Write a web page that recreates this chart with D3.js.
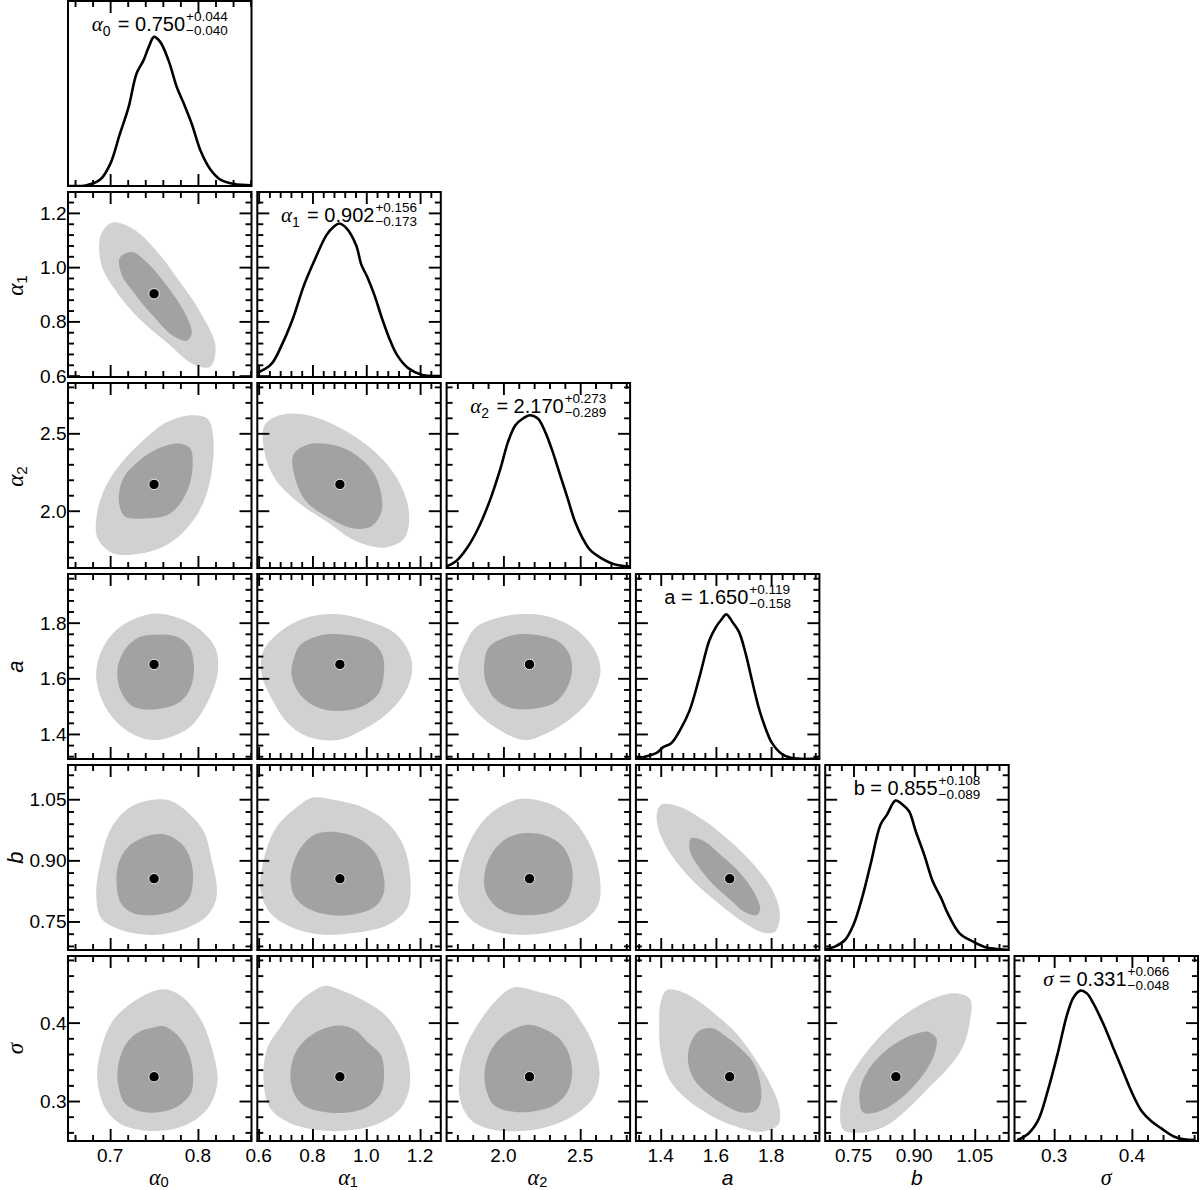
<!DOCTYPE html>
<html>
<head>
<meta charset="utf-8">
<script src="https://cdn.jsdelivr.net/npm/d3@7"></script>
<style>
body { margin: 0; background: #fff; }
text { font-family: "Liberation Sans", Arial, sans-serif; fill: #000; }
</style>
</head>
<body>
<svg id="corner" width="1200" height="1190"></svg>
<script>
// Paramètres
const paramSym   = ["α", "α", "α", "a", "b", "σ"];
const paramSub   = ["0", "1", "2", "", "", ""];
const paramGreek = [true, true, true, false, false, true];
const domains = [[0.652, 0.861], [0.595, 1.277], [1.63, 2.825], [1.31, 1.975], [0.68, 1.134], [0.249, 0.485]];
const majorTicks = [[0.7, 0.8], [0.6, 0.8, 1.0, 1.2], [2.0, 2.5], [1.4, 1.6, 1.8], [0.75, 0.90, 1.05], [0.3, 0.4]];
const tickLabels = [["0.7", "0.8"], ["0.6", "0.8", "1.0", "1.2"], ["2.0", "2.5"], ["1.4", "1.6", "1.8"], ["0.75", "0.90", "1.05"], ["0.3", "0.4"]];
const minorStep = [0.02, 0.04, 0.1, 0.04, 0.03, 0.02];
const bestFit = [0.750, 0.902, 2.170, 1.650, 0.855, 0.331];
const errPlus = [0.044, 0.156, 0.273, 0.119, 0.108, 0.066];
const errMinus = [0.040, 0.173, 0.289, 0.158, 0.089, 0.048];

// Distributions marginales (valeur, densité relative)
const margA0 = [[0.652,0.0],[0.673,0.004],[0.689,0.036],[0.700,0.118],[0.711,0.28],[0.721,0.426],[0.730,0.607],[0.738,0.679],[0.744,0.752],[0.750,0.806],[0.757,0.779],[0.7665,0.679],[0.776,0.534],[0.784,0.444],[0.793,0.335],[0.803,0.19],[0.814,0.09],[0.825,0.036],[0.841,0.011],[0.861,0.004]];
const margA1 = [[0.595,0.023],[0.646,0.068],[0.687,0.176],[0.728,0.319],[0.769,0.498],[0.811,0.642],[0.852,0.767],[0.879,0.812],[0.900,0.830],[0.927,0.803],[0.962,0.713],[0.982,0.606],[1.003,0.543],[1.030,0.444],[1.058,0.319],[1.085,0.211],[1.113,0.122],[1.154,0.050],[1.209,0.011],[1.275,0.005]];
const margA2 = [[1.63,0.009],[1.691,0.036],[1.763,0.108],[1.836,0.215],[1.909,0.359],[1.981,0.539],[2.030,0.682],[2.078,0.772],[2.127,0.808],[2.171,0.826],[2.224,0.808],[2.272,0.736],[2.321,0.628],[2.369,0.503],[2.418,0.377],[2.466,0.251],[2.515,0.162],[2.563,0.099],[2.636,0.054],[2.733,0.018],[2.825,0.009]];
const margA = [[1.311,0.0],[1.349,0.015],[1.385,0.033],[1.409,0.064],[1.439,0.087],[1.468,0.151],[1.504,0.26],[1.540,0.441],[1.576,0.641],[1.600,0.713],[1.618,0.75],[1.638,0.782],[1.660,0.74],[1.684,0.686],[1.708,0.568],[1.731,0.423],[1.755,0.278],[1.779,0.169],[1.803,0.087],[1.839,0.027],[1.875,0.005],[1.970,0.002]];
const margB = [[0.675,0.0],[0.704,0.018],[0.729,0.054],[0.750,0.136],[0.771,0.28],[0.792,0.461],[0.817,0.678],[0.833,0.732],[0.854,0.808],[0.871,0.787],[0.8875,0.75],[0.904,0.642],[0.925,0.515],[0.946,0.371],[0.967,0.28],[0.983,0.199],[1.0125,0.09],[1.046,0.045],[1.079,0.013],[1.1125,0.004],[1.134,0.0]];
const margS = [[0.2525,0.005],[0.267,0.041],[0.2796,0.114],[0.2921,0.276],[0.3046,0.474],[0.3171,0.69],[0.3254,0.78],[0.3338,0.813],[0.3421,0.798],[0.3504,0.744],[0.3629,0.636],[0.3754,0.51],[0.3879,0.384],[0.4004,0.258],[0.4129,0.159],[0.4254,0.105],[0.4379,0.068],[0.4546,0.023],[0.4671,0.009],[0.4816,0.005]];
const marginals = [margA0, margA1, margA2, margA, margB, margS];

// Contours 2D (x = paramètre colonne, y = paramètre ligne)
const ctrA0A1 = {
  outer: [[0.689,1.115],[0.702,1.164],[0.727,1.139],[0.753,1.059],[0.780,0.943],[0.803,0.832],[0.820,0.709],[0.814,0.633],[0.795,0.641],[0.765,0.721],[0.734,0.807],[0.708,0.906],[0.6905,1.004]],
  inner: [[0.711,1.035],[0.725,1.056],[0.742,1.017],[0.765,0.930],[0.784,0.838],[0.793,0.758],[0.7875,0.729],[0.772,0.746],[0.749,0.820],[0.727,0.906],[0.713,0.973]]
};
const ctrA0A2 = {
  outer: [[0.7947,2.617],[0.8115,2.591],[0.8178,2.445],[0.8157,2.252],[0.8094,2.102],[0.7989,1.973],[0.7821,1.855],[0.7611,1.769],[0.7317,1.720],[0.7024,1.727],[0.6856,1.823],[0.6847,1.973],[0.694,2.145],[0.7108,2.295],[0.7359,2.445],[0.7653,2.574]],
  inner: [[0.7779,2.434],[0.7913,2.402],[0.7939,2.284],[0.7897,2.156],[0.78,2.048],[0.7653,1.973],[0.7422,1.952],[0.717,1.962],[0.7099,2.059],[0.715,2.209],[0.7317,2.317],[0.7548,2.402]]
};
const ctrA1A2 = {
  outer: [[0.6226,2.553],[0.6873,2.621],[0.7838,2.617],[0.9078,2.531],[1.0318,2.381],[1.1144,2.209],[1.1585,1.995],[1.142,1.823],[1.073,1.763],[0.9629,1.802],[0.8527,1.930],[0.7424,2.059],[0.6597,2.209],[0.6212,2.381]],
  inner: [[0.7287,2.359],[0.7838,2.428],[0.8802,2.424],[0.9629,2.359],[1.0249,2.252],[1.0538,2.124],[1.0566,1.995],[1.018,1.898],[0.9491,1.887],[0.8527,1.963],[0.7769,2.059],[0.7355,2.209]]
};
const ctrA0A = {
  outer: [[0.7463,1.831],[0.7718,1.823],[0.800,1.781],[0.8198,1.709],[0.8226,1.624],[0.8113,1.517],[0.7887,1.420],[0.7492,1.378],[0.7181,1.414],[0.6955,1.492],[0.6842,1.600],[0.6899,1.697],[0.7096,1.781]],
  inner: [[0.7492,1.757],[0.7746,1.751],[0.7898,1.715],[0.7955,1.6425],[0.7915,1.565],[0.7802,1.517],[0.7548,1.490],[0.7266,1.498],[0.7124,1.552],[0.7085,1.637],[0.7181,1.709],[0.7322,1.747]]
};
const ctrA1A = {
  outer: [[0.6816,1.769],[0.7738,1.817],[0.8844,1.831],[1.0042,1.807],[1.1056,1.763],[1.1609,1.690],[1.1701,1.624],[1.1424,1.546],[1.0779,1.474],[0.9858,1.414],[0.8936,1.378],[0.783,1.390],[0.7093,1.438],[0.654,1.517],[0.6116,1.6125],[0.6171,1.697]],
  inner: [[0.7553,1.7205],[0.8291,1.754],[0.9213,1.757],[1.0134,1.735],[1.0595,1.685],[1.065,1.6125],[1.0466,1.546],[0.995,1.504],[0.912,1.483],[0.8199,1.495],[0.7553,1.540],[0.7222,1.6125],[0.7332,1.679]]
};
const ctrA2A = {
  outer: [[1.829,1.787],[2.006,1.823],[2.166,1.831],[2.327,1.817],[2.488,1.769],[2.600,1.697],[2.632,1.624],[2.568,1.528],[2.440,1.456],[2.279,1.402],[2.134,1.378],[1.958,1.420],[1.813,1.4865],[1.717,1.576],[1.710,1.661],[1.765,1.740]],
  inner: [[1.910,1.715],[2.054,1.754],[2.199,1.757],[2.350,1.735],[2.427,1.690],[2.446,1.624],[2.407,1.558],[2.327,1.510],[2.183,1.490],[2.038,1.495],[1.942,1.528],[1.881,1.594],[1.877,1.661]]
};
const ctrA0B = {
  outer: [[0.7463,1.048],[0.7689,1.046],[0.7898,1.015],[0.8068,0.970],[0.8152,0.905],[0.8215,0.815],[0.8113,0.766],[0.7859,0.733],[0.7492,0.717],[0.7153,0.727],[0.6899,0.758],[0.6842,0.815],[0.6899,0.905],[0.7011,0.979],[0.7209,1.028]],
  inner: [[0.7463,0.962],[0.7661,0.961],[0.7842,0.934],[0.7927,0.893],[0.7943,0.848],[0.7898,0.807],[0.7746,0.778],[0.752,0.766],[0.7266,0.770],[0.7124,0.795],[0.7074,0.840],[0.7096,0.893],[0.7209,0.934]]
};
const ctrA1B = {
  outer: [[0.8014,1.054],[0.8844,1.048],[0.995,1.028],[1.0871,0.987],[1.1424,0.929],[1.1645,0.848],[1.1516,0.782],[1.0779,0.741],[0.9397,0.721],[0.8291,0.718],[0.7185,0.737],[0.6448,0.770],[0.6079,0.823],[0.6171,0.897],[0.6632,0.979],[0.737,1.028]],
  inner: [[0.8107,0.964],[0.8936,0.969],[0.9766,0.952],[1.0318,0.920],[1.0613,0.872],[1.065,0.819],[1.0318,0.786],[0.9581,0.768],[0.866,0.766],[0.783,0.782],[0.7332,0.811],[0.7185,0.856],[0.7332,0.901],[0.7646,0.938]]
};
const ctrA2B = {
  outer: [[2.134,1.052],[2.295,1.040],[2.423,1.011],[2.529,0.962],[2.600,0.905],[2.632,0.840],[2.616,0.790],[2.520,0.751],[2.343,0.727],[2.118,0.717],[1.910,0.729],[1.781,0.758],[1.710,0.807],[1.717,0.872],[1.781,0.946],[1.893,1.007],[2.022,1.040]],
  inner: [[2.118,0.966],[2.272,0.961],[2.382,0.936],[2.440,0.893],[2.449,0.844],[2.417,0.803],[2.327,0.776],[2.183,0.766],[2.038,0.770],[1.942,0.790],[1.881,0.827],[1.881,0.876],[1.932,0.921],[2.022,0.954]]
};
const ctrAB = {
  outer: [[1.403,1.037],[1.4655,1.032],[1.555,0.999],[1.653,0.946],[1.743,0.885],[1.805,0.827],[1.832,0.766],[1.814,0.725],[1.769,0.723],[1.707,0.745],[1.6175,0.790],[1.519,0.848],[1.4387,0.913],[1.3905,0.979],[1.3869,1.019]],
  inner: [[1.510,0.954],[1.555,0.948],[1.6175,0.913],[1.689,0.868],[1.737,0.823],[1.760,0.782],[1.748,0.766],[1.707,0.772],[1.653,0.803],[1.591,0.840],[1.537,0.885],[1.505,0.925]]
};
const ctrA0S = {
  outer: [[0.7529,0.4414],[0.7668,0.4419],[0.7851,0.430],[0.8028,0.4046],[0.815,0.3708],[0.8222,0.3243],[0.8111,0.2904],[0.7862,0.2693],[0.7529,0.2617],[0.7141,0.2693],[0.6947,0.2904],[0.6853,0.3285],[0.6908,0.3708],[0.703,0.4025],[0.7252,0.4258]],
  inner: [[0.7501,0.3941],[0.7612,0.3953],[0.7778,0.3826],[0.7889,0.3624],[0.7945,0.3327],[0.7917,0.3095],[0.7778,0.2938],[0.7584,0.2862],[0.7363,0.2862],[0.7169,0.2968],[0.7097,0.3179],[0.7086,0.3412],[0.7169,0.3708],[0.7307,0.3869]]
};
const ctrA1S = {
  outer: [[0.8476,0.4469],[0.9017,0.4419],[0.9919,0.4279],[1.0731,0.4089],[1.1272,0.3814],[1.158,0.3497],[1.1597,0.3158],[1.1272,0.2904],[1.055,0.2727],[0.9468,0.2629],[0.8205,0.2629],[0.7123,0.2727],[0.6437,0.2904],[0.6185,0.3243],[0.6311,0.3666],[0.6852,0.3962],[0.7484,0.4258]],
  inner: [[0.8927,0.3962],[0.9558,0.3911],[1.0054,0.375],[1.055,0.3581],[1.0659,0.3327],[1.055,0.3107],[1.01,0.2938],[0.9288,0.2854],[0.8385,0.2862],[0.7628,0.2955],[0.7267,0.3137],[0.7195,0.3412],[0.7448,0.3666],[0.8025,0.3856]]
};
const ctrA2S = {
  outer: [[2.066,0.4448],[2.224,0.4393],[2.398,0.4279],[2.509,0.4004],[2.588,0.3708],[2.626,0.3327],[2.582,0.3031],[2.461,0.282],[2.288,0.2672],[2.114,0.2617],[1.924,0.2638],[1.791,0.2756],[1.722,0.2989],[1.712,0.3327],[1.75,0.3666],[1.829,0.3962],[1.94,0.4258]],
  inner: [[2.145,0.397],[2.265,0.392],[2.367,0.3793],[2.43,0.3581],[2.446,0.3327],[2.414,0.3107],[2.329,0.2947],[2.202,0.2871],[2.066,0.2862],[1.94,0.2947],[1.886,0.3158],[1.88,0.3412],[1.924,0.3666],[2.013,0.3856]]
};
const ctrAS = {
  outer: [[1.4208,0.4414],[1.4648,0.4406],[1.5352,0.4279],[1.5967,0.411],[1.676,0.3856],[1.7463,0.3518],[1.799,0.32],[1.8307,0.2904],[1.8254,0.2693],[1.7639,0.2608],[1.676,0.2672],[1.5792,0.282],[1.4912,0.3031],[1.4296,0.3285],[1.3997,0.3624],[1.3945,0.4004],[1.3997,0.4258]],
  inner: [[1.5405,0.3899],[1.588,0.3928],[1.6354,0.3826],[1.6847,0.3687],[1.734,0.3497],[1.7586,0.3264],[1.7639,0.3031],[1.7463,0.2883],[1.6935,0.2854],[1.6319,0.2947],[1.5703,0.3095],[1.5229,0.3264],[1.5,0.3476],[1.5053,0.3708]]
};
const ctrBS = {
  outer: [[1.0043,0.4374],[1.0388,0.4297],[1.0371,0.3991],[1.0207,0.3693],[0.9838,0.3417],[0.9386,0.3183],[0.8811,0.2886],[0.8237,0.2664],[0.7662,0.2596],[0.7252,0.263],[0.717,0.2886],[0.7293,0.3183],[0.7621,0.3481],[0.8073,0.3778],[0.8647,0.4055],[0.9304,0.4268],[0.9715,0.4353]],
  inner: [[0.9345,0.3885],[0.955,0.38],[0.9509,0.3608],[0.9304,0.3396],[0.8976,0.3183],[0.8565,0.2992],[0.8113,0.2864],[0.7744,0.2852],[0.7646,0.3013],[0.7703,0.3226],[0.795,0.3459],[0.8319,0.3651],[0.8811,0.3813],[0.914,0.3872]]
};
// contours[ligne][colonne]
const contours = [
  [],
  [ctrA0A1],
  [ctrA0A2, ctrA1A2],
  [ctrA0A, ctrA1A, ctrA2A],
  [ctrA0B, ctrA1B, ctrA2B, ctrAB],
  [ctrA0S, ctrA1S, ctrA2S, ctrAS, ctrBS]
];

// Mise en page
const N = 6;
const panelW = 183.5, panelH = 185;
const colLeft = j => 68 + j * 189.3;
const rowTop = i => 1 + i * 191;
const majorLen = 12, minorLen = 6;

const svg = d3.select("#corner");
const defs = svg.append("defs");

function minorTicks(k) {
  const [lo, hi] = domains[k];
  const s = minorStep[k];
  const out = [];
  for (let n = Math.ceil(lo / s - 1e-6); n * s <= hi + 1e-9; n++) {
    const v = +(n * s).toFixed(4);
    if (!majorTicks[k].some(m => Math.abs(m - v) < 1e-6)) out.push(v);
  }
  return out;
}

// nom du paramètre dans un élément text
function appendName(t, k, size, italicLatin, subShift) {
  if (paramGreek[k]) {
    t.append("tspan").attr("font-family", "'Liberation Serif', 'DejaVu Serif', serif")
      .attr("font-style", "italic").attr("font-size", size * 1.05).text(paramSym[k]);
  } else {
    t.append("tspan").attr("font-style", italicLatin ? "italic" : "normal").text(paramSym[k]);
  }
  if (paramSub[k]) {
    const d = subShift;
    t.append("tspan").attr("font-size", size * 0.7).attr("dy", d).text(paramSub[k]);
    t.append("tspan").attr("dy", -d).text("\u200a");
  }
}

function drawTicks(g, x, y, left, top, k, i) {
  const sides = [];
  sides.push({ axis: d3.axisBottom(x), tr: `translate(0,${top + panelH})`, k: k });
  sides.push({ axis: d3.axisTop(x), tr: `translate(0,${top})`, k: k });
  if (y) {
    sides.push({ axis: d3.axisLeft(y), tr: `translate(${left},0)`, k: i });
    sides.push({ axis: d3.axisRight(y), tr: `translate(${left + panelW},0)`, k: i });
  }
  sides.forEach(s => {
    [[majorTicks[s.k], majorLen], [minorTicks(s.k), minorLen]].forEach(([vals, len]) => {
      const a = g.append("g").attr("transform", s.tr)
        .call(s.axis.tickValues(vals).tickSize(-len).tickFormat(""));
      a.select(".domain").remove();
      a.selectAll("line").attr("stroke", "#000").attr("stroke-width", 1.9);
      a.selectAll("text").remove();
    });
  });
}

for (let i = 0; i < N; i++) {
  for (let j = 0; j <= i; j++) {
    const left = colLeft(j), top = rowTop(i);
    const g = svg.append("g");
    const x = d3.scaleLinear().domain(domains[j]).range([left, left + panelW]);
    const clipId = `clip-${i}-${j}`;
    defs.append("clipPath").attr("id", clipId)
      .append("rect").attr("x", left).attr("y", top).attr("width", panelW).attr("height", panelH);
    const plot = g.append("g").attr("clip-path", `url(#${clipId})`);

    let yRow = null;
    if (i > 0) yRow = d3.scaleLinear().domain(domains[i]).range([top + panelH, top]);

    if (i === j) {
      const yM = d3.scaleLinear().domain([0, 1]).range([top + panelH, top]);
      plot.append("path")
        .datum(marginals[i])
        .attr("d", d3.line().x(d => x(d[0])).y(d => yM(d[1])).curve(d3.curveCatmullRom.alpha(0.5)))
        .attr("fill", "none").attr("stroke", "#000").attr("stroke-width", 2.6)
        .attr("stroke-linejoin", "round");
    } else {
      const c = contours[i][j];
      const line = d3.line().x(d => x(d[0])).y(d => yRow(d[1])).curve(d3.curveCatmullRomClosed.alpha(0.5));
      plot.append("path").attr("d", line(c.outer)).attr("fill", "#d1d1d1");
      plot.append("path").attr("d", line(c.inner)).attr("fill", "#a2a2a2");
      plot.append("circle").attr("cx", x(bestFit[j])).attr("cy", yRow(bestFit[i]))
        .attr("r", 5.2).attr("fill", "#000").attr("stroke", "#e6e6e6").attr("stroke-width", 1);
    }

    drawTicks(g, x, yRow, left, top, j, i);

    g.append("rect").attr("x", left).attr("y", top).attr("width", panelW).attr("height", panelH)
      .attr("fill", "none").attr("stroke", "#000").attr("stroke-width", 2);

    // étiquettes de graduation
    if (i === N - 1) {
      majorTicks[j].forEach((v, n) => {
        g.append("text").attr("x", x(v)).attr("y", top + panelH + 20.5)
          .attr("text-anchor", "middle").attr("font-size", 19).text(tickLabels[j][n]);
      });
      const xl = g.append("text").attr("x", left + panelW / 2).attr("y", top + panelH + 43.5)
        .attr("text-anchor", "middle").attr("font-size", 21);
      appendName(xl, j, 21, true, 2);
    }
    if (j === 0 && i > 0) {
      majorTicks[i].forEach((v, n) => {
        g.append("text").attr("x", left - 1.5).attr("y", yRow(v) + 7)
          .attr("text-anchor", "end").attr("font-size", 19).text(tickLabels[i][n]);
      });
      const yl = g.append("text")
        .attr("transform", `translate(22.5,${top + panelH / 2}) rotate(-90)`)
        .attr("text-anchor", "middle").attr("font-size", 22);
      appendName(yl, i, 22, true, 4);
    }

    // annotation sur la diagonale
    if (i === j) {
      const t = g.append("text").attr("y", top + 30).attr("font-size", 20);
      appendName(t, i, 20, false, 5);
      t.append("tspan").text(" = " + bestFit[i].toFixed(3));
      const sup = g.append("text").attr("y", top + 19.5).attr("font-size", 13.5).text("+" + errPlus[i].toFixed(3));
      const sub = g.append("text").attr("y", top + 33.5).attr("font-size", 13.5).text("\u2212" + errMinus[i].toFixed(3));
      const w = t.node().getComputedTextLength();
      const ws = Math.max(sup.node().getComputedTextLength(), sub.node().getComputedTextLength());
      const x0 = left + panelW / 2 - (w + 1 + ws) / 2;
      t.attr("x", x0);
      sup.attr("x", x0 + w + 1);
      sub.attr("x", x0 + w + 1);
    }
  }
}
</script>
</body>
</html>
